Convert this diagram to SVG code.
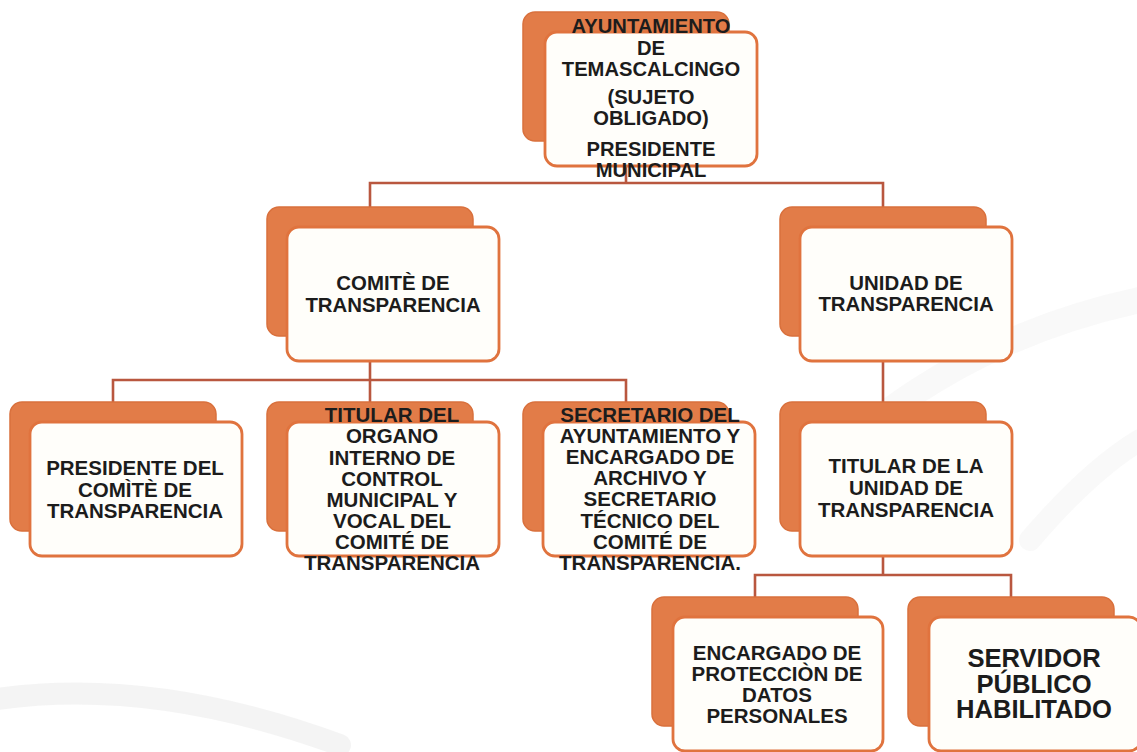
<svg xmlns="http://www.w3.org/2000/svg" width="1137" height="752" viewBox="0 0 1137 752">
<style>
.bk{fill:#E27C48;stroke:#D9703C;stroke-width:1.5}
.fr{fill:#FFFEFA;stroke:#E0733E;stroke-width:2.8}
.cn{fill:none;stroke:#B9573F;stroke-width:2.6;stroke-linecap:square}
text{font-family:"Liberation Sans",Arial,sans-serif;font-weight:bold;fill:#1c1c1c;text-anchor:middle}
.t19{font-size:20.2px}
.t20{font-size:20.5px}
.tc{font-size:20.4px}
.t25{font-size:25.6px}
.sw{fill:none;stroke:#EFEFEF;stroke-linecap:round}
</style>
<rect width="1137" height="752" fill="#FFFFFF"/>
<g id="background">
<path class="sw" d="M -10 700 Q 150 675 340 745" stroke-width="22" opacity="0.7"/>
<path class="sw" d="M 890 410 Q 1000 330 1140 300" stroke-width="26" opacity="0.4"/>
<path class="sw" d="M 1030 540 Q 1090 470 1140 440" stroke-width="22" opacity="0.35"/>
</g>
<g id="connectors">
<path class="cn" d="M626 166V183M370 183H883M370 183V207M883 183V207"/>
<path class="cn" d="M370 361V380M113 380H626M113 380V402M370 380V402M626 380V402"/>
<path class="cn" d="M883 361V402"/>
<path class="cn" d="M883 556V575M755 575H1011M755 575V597M1011 575V597"/>
</g>
<g id="n-ayuntamiento">
<rect class="bk" x="523" y="12" width="206" height="129" rx="12"/>
<rect class="fr" x="545" y="32" width="212" height="134" rx="12"/>
<text class="t19" x="651" y="33">AYUNTAMIENTO</text>
<text class="t19" x="651" y="55">DE</text>
<text class="t19" x="651" y="76">TEMASCALCINGO</text>
<text class="t19" x="651" y="104">(SUJETO</text>
<text class="t19" x="651" y="125">OBLIGADO)</text>
<text class="t19" x="651" y="156">PRESIDENTE</text>
<text class="t19" x="651" y="177">MUNICIPAL</text>
</g>
<g id="n-comite">
<rect class="bk" x="267" y="207" width="206" height="129" rx="12"/>
<rect class="fr" x="287" y="227" width="212" height="134" rx="12"/>
<text class="tc" x="393" y="290">COMITÈ DE</text>
<text class="tc" x="393" y="312">TRANSPARENCIA</text>
</g>
<g id="n-unidad">
<rect class="bk" x="780" y="207" width="206" height="129" rx="12"/>
<rect class="fr" x="800" y="227" width="212" height="134" rx="12"/>
<text class="tc" x="906" y="290">UNIDAD DE</text>
<text class="tc" x="906" y="311">TRANSPARENCIA</text>
</g>
<g id="n-presidente-comite">
<rect class="bk" x="10" y="402" width="206" height="129" rx="12"/>
<rect class="fr" x="30" y="422" width="212" height="134" rx="12"/>
<text class="t20" x="135" y="475">PRESIDENTE DEL</text>
<text class="t20" x="135" y="497">COMÌTÈ DE</text>
<text class="t20" x="135" y="518">TRANSPARENCIA</text>
</g>
<g id="n-titular-organo">
<rect class="bk" x="267" y="402" width="206" height="129" rx="12"/>
<rect class="fr" x="287" y="422" width="212" height="134" rx="12"/>
<text class="t20" x="392" y="422">TITULAR DEL</text>
<text class="t20" x="392" y="443">ORGANO</text>
<text class="t20" x="392" y="465">INTERNO DE</text>
<text class="t20" x="392" y="486">CONTROL</text>
<text class="t20" x="392" y="507">MUNICIPAL Y</text>
<text class="t20" x="392" y="528">VOCAL DEL</text>
<text class="t20" x="392" y="549">COMITÉ DE</text>
<text class="t20" x="392" y="570">TRANSPARENCIA</text>
</g>
<g id="n-secretario">
<rect class="bk" x="523" y="402" width="206" height="129" rx="12"/>
<rect class="fr" x="543" y="422" width="212" height="134" rx="12"/>
<text class="t20" x="650" y="422">SECRETARIO DEL</text>
<text class="t20" x="650" y="443">AYUNTAMIENTO Y</text>
<text class="t20" x="650" y="464">ENCARGADO DE</text>
<text class="t20" x="650" y="485">ARCHIVO Y</text>
<text class="t20" x="650" y="506">SECRETARIO</text>
<text class="t20" x="650" y="528">TÉCNICO DEL</text>
<text class="t20" x="650" y="549">COMITÉ DE</text>
<text class="t20" x="650" y="570">TRANSPARENCIA.</text>
</g>
<g id="n-titular-unidad">
<rect class="bk" x="780" y="402" width="206" height="129" rx="12"/>
<rect class="fr" x="800" y="422" width="212" height="134" rx="12"/>
<text class="t20" x="906" y="473">TITULAR DE LA</text>
<text class="t20" x="906" y="495">UNIDAD DE</text>
<text class="t20" x="906" y="517">TRANSPARENCIA</text>
</g>
<g id="n-encargado-datos">
<rect class="bk" x="652" y="597" width="206" height="129" rx="12"/>
<rect class="fr" x="673" y="617" width="210" height="134" rx="12"/>
<text class="t20" x="777" y="660">ENCARGADO DE</text>
<text class="t20" x="777" y="681">PROTECCIÒN DE</text>
<text class="t20" x="777" y="702">DATOS</text>
<text class="t20" x="777" y="723">PERSONALES</text>
</g>
<g id="n-servidor">
<rect class="bk" x="908" y="597" width="206" height="129" rx="12"/>
<rect class="fr" x="929" y="617" width="212" height="134" rx="12"/>
<text class="t25" x="1034" y="667">SERVIDOR</text>
<text class="t25" x="1034" y="693">PÚBLICO</text>
<text class="t25" x="1034" y="718">HABILITADO</text>
</g>
</svg>
